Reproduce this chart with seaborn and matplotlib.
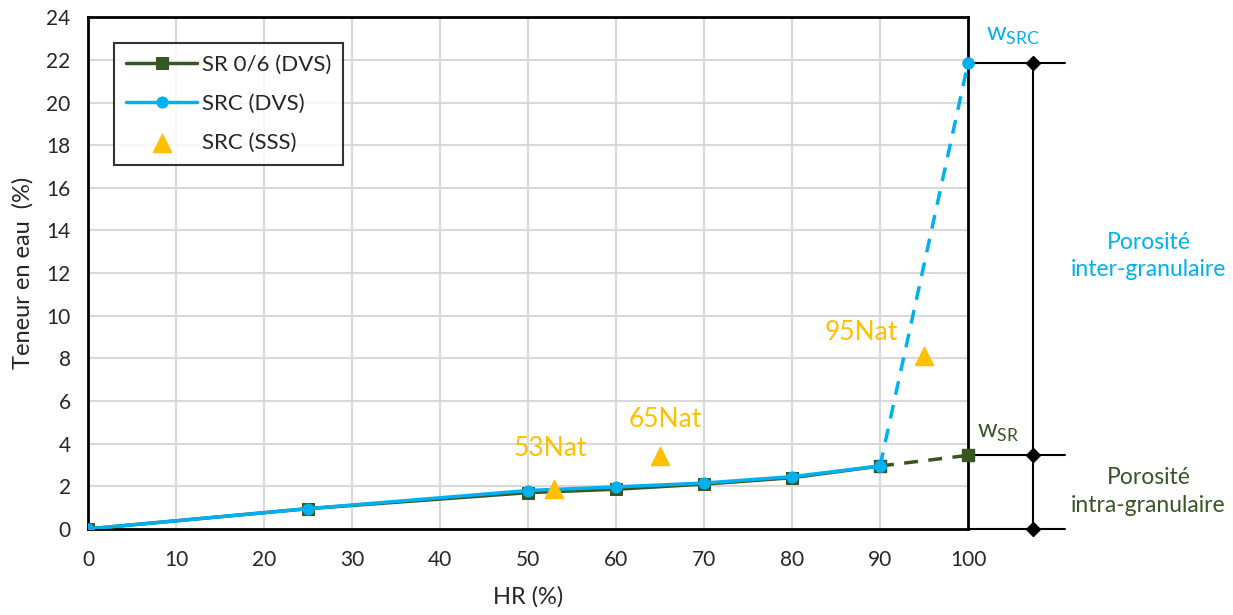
import matplotlib
matplotlib.use("Agg")
import matplotlib.pyplot as plt
import seaborn as sns
import pandas as pd

# data
hr = [0, 25, 50, 60, 70, 80, 90, 100]
sr_dvs = [0, 0.95, 1.70, 1.86, 2.10, 2.40, 2.95, 3.45]
src_dvs = [0, 0.95, 1.80, 1.97, 2.15, 2.45, 2.95, 21.85]
sss_hr = [53, 65, 95]
sss_w = [1.88, 3.42, 8.10]
sss_labels = ["53Nat", "65Nat", "95Nat"]

GREEN = "#375623"
BLUE = "#00B0F0"
ORANGE = "#FFC000"

sns.set_style("white")
plt.rcParams["font.family"] = ["Lato", "DejaVu Sans"]

df_sr = pd.DataFrame({"HR": hr[:7], "w": sr_dvs[:7]})
df_src = pd.DataFrame({"HR": hr[:7], "w": src_dvs[:7]})

fig = plt.figure(figsize=(12.33, 6.15), dpi=100)
ax = fig.add_axes([0.0714, 0.140, 0.7137, 0.832])

sns.lineplot(data=df_sr, x="HR", y="w", ax=ax, color=GREEN, lw=2.5,
             marker="s", markersize=8, markeredgecolor=GREEN,
             label="SR 0/6 (DVS)", zorder=3)
sns.lineplot(data=df_src, x="HR", y="w", ax=ax, color=BLUE, lw=2.5,
             marker="o", markersize=8, markeredgecolor=BLUE,
             label="SRC (DVS)", zorder=4)
# saturation branches (dashed)
ax.plot(hr[6:], sr_dvs[6:], color=GREEN, lw=2.5, ls=(0, (4, 3)),
        marker="s", markersize=8, zorder=3, clip_on=False)
ax.plot(hr[6:], src_dvs[6:], color=BLUE, lw=2.5, ls=(0, (4, 3)),
        marker="o", markersize=8, zorder=4, clip_on=False)
sns.scatterplot(x=sss_hr, y=sss_w, ax=ax, marker="^", s=170, color=ORANGE,
                edgecolor=ORANGE, label="SRC (SSS)", zorder=5)

# label offsets in pixels (dx, dy, ha)
offsets = [(-4, 28, "center"), (5, 24, "center"), (-26, 11, "right")]
for xx, yy, lab, (dx, dy, ha) in zip(sss_hr, sss_w, sss_labels, offsets):
    ax.annotate(lab, (xx, yy), xytext=(dx, dy), textcoords="offset pixels",
                ha=ha, va="bottom", color=ORANGE, fontsize=19)

ax.set_xlim(0, 100)
ax.set_ylim(0, 24)
ax.set_xticks(range(0, 101, 10))
ax.set_yticks(range(0, 25, 2))
ax.tick_params(labelsize=15, length=0)
ax.tick_params(axis="x", pad=15)
ax.tick_params(axis="y", pad=12.5)
ax.grid(True, color="#D9D9D9", lw=1.5)
for s in ax.spines.values():
    s.set_color("black")
    s.set_linewidth(2)
ax.set_xlabel("HR (%)", fontsize=17, labelpad=12)
ax.set_ylabel("Teneur en eau  (%)", fontsize=17, labelpad=9)

leg = ax.legend(loc="upper left", bbox_to_anchor=(0.017, 0.972), fontsize=16,
                frameon=True, fancybox=False, edgecolor="black",
                borderpad=0.55, labelspacing=0.85, handlelength=3.2,
                handletextpad=0.2)
leg.get_frame().set_linewidth(1.5)

# porosity brackets on the right
xb = 107.4
for yv in [src_dvs[-1], sr_dvs[-1], 0]:
    ax.plot([100, 111], [yv, yv], color="black", lw=1.5, clip_on=False, zorder=2)
ax.plot([xb, xb], [0, src_dvs[-1]], color="black", lw=1.5, clip_on=False)
ax.plot([xb] * 3, [src_dvs[-1], sr_dvs[-1], 0], ls="none", marker="D",
        color="black", markersize=7, clip_on=False)

ax.text(102, 22.6, r"w$_{\mathregular{SRC}}$", color=BLUE, fontsize=18,
        ha="left", va="bottom")
ax.text(101, 4.0, r"w$_{\mathregular{SR}}$", color=GREEN, fontsize=18,
        ha="left", va="bottom")
ax.text(120.5, 12.8, "Porosité\ninter-granulaire", color=BLUE, fontsize=16.5,
        ha="center", va="center", linespacing=1.4)
ax.text(120.5, 1.75, "Porosité\nintra-granulaire", color=GREEN, fontsize=16.5,
        ha="center", va="center", linespacing=1.4)

fig.savefig("out.png", dpi=100)
